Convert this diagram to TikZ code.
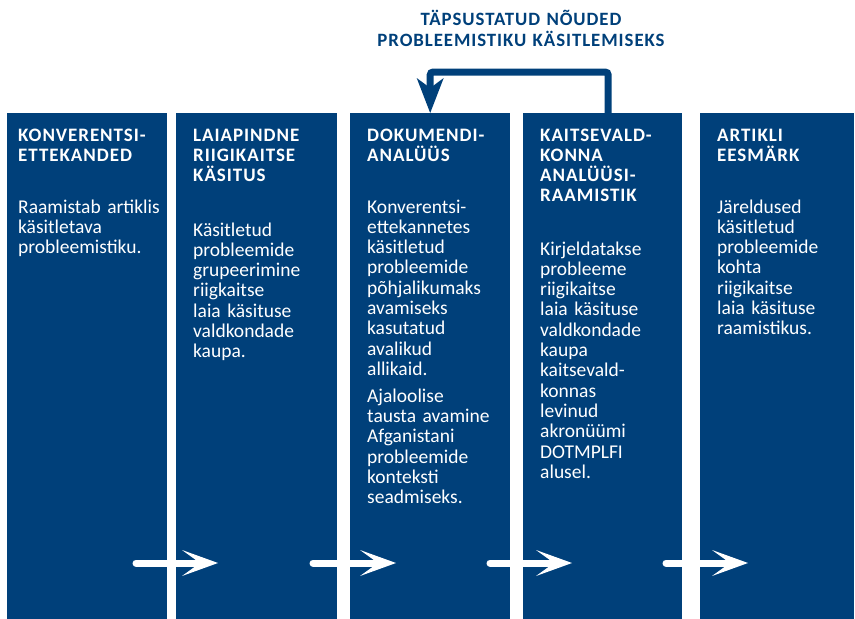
\documentclass[tikz,border=0pt]{standalone}
\usepackage{fontspec}
\setmainfont{Carlito}
\newfontfamily\headfont{Carlito}[LetterSpace=5]
\usepackage{tikz}
\usetikzlibrary{arrows.meta}
\definecolor{navyblue}{RGB}{0,64,122}

\begin{document}
\begin{tikzpicture}[x=1pt,y=-1pt]
        \tikzstyle{colnode}=[
            rectangle,
            fill=navyblue,
            anchor=north west,
            minimum height=506pt,
            inner sep=0pt
        ]
        \tikzstyle{headnode}=[
            anchor=base west,
            inner sep=0pt,
            text width=150pt,
            align=left,
            text=white,
            font=\headfont\bfseries\fontsize{19}{20}\selectfont
        ]
        \tikzstyle{bodynode}=[
            anchor=base west,
            inner sep=0pt,
            text width=150pt,
            align=left,
            text=white,
            font=\fontsize{19.5}{20.3}\selectfont
        ]
        \tikzstyle{flowarrow}=[
            draw=white,
            line width=7pt,
            line cap=round,
            -{Stealth[length=36pt,width=26pt,inset=18pt,line width=0pt]}
        ]

        \useasboundingbox (0,0) rectangle (855,619);

        % columns
        \node[colnode, minimum width=160pt] (c1) at (7,113) {};
        \node[colnode, minimum width=161pt] (c2) at (176,113) {};
        \node[colnode, minimum width=160pt] (c3) at (350,113) {};
        \node[colnode, minimum width=159pt] (c4) at (523,113) {};
        \node[colnode, minimum width=154pt] (c5) at (700,113) {};

        % title
        \node[anchor=base, inner sep=0pt, text width=330pt, align=center, text=navyblue,
              font=\headfont\bfseries\fontsize{18.8}{21}\selectfont] (title) at (521,25)
              {TÄPSUSTATUD NÕUDED\\PROBLEEMISTIKU KÄSITLEMISEKS};

        % headings
        \node[headnode] (h1) at (18,141) {KONVERENTSI-\\ETTEKANDED};
        \node[headnode] (h2) at (193,141) {LAIAPINDNE\\RIIGIKAITSE\\KÄSITUS};
        \node[headnode] (h3) at (367,141) {DOKUMENDI-\\ANALÜÜS};
        \node[headnode] (h4) at (540,141) {KAITSEVALD-\\KONNA\\ANALÜÜSI-\\RAAMISTIK};
        \node[headnode] (h5) at (717,141) {ARTIKLI\\EESMÄRK};

        % texts
        \node[bodynode] (b1) at (18,213) {Raamistab artiklis\\käsitletava\\probleemistiku.};
        \node[bodynode] (b2) at (193,236) {Käsitletud\\probleemide\\grupeerimine\\riigkaitse\\laia käsituse\\valdkondade\\kaupa.};
        \node[bodynode] (b3) at (367,213) {Konverentsi-\\ettekannetes\\käsitletud\\probleemide\\põhjalikumaks\\avamiseks\\kasutatud\\avalikud\\allikaid.\\[6.5pt]Ajaloolise\\tausta avamine\\Afganistani\\probleemide\\konteksti\\seadmiseks.};
        \node[bodynode] (b4) at (540,255) {Kirjeldatakse\\probleeme\\riigikaitse\\laia käsituse\\valdkondade\\kaupa\\kaitsevald-\\konnas\\levinud\\akronüümi\\DOTMPLFI\\alusel.};
        \node[bodynode] (b5) at (717,213) {Järeldused\\käsitletud\\probleemide\\kohta\\riigikaitse\\laia käsituse\\raamistikus.};

        % flow arrows
        \coordinate (a1s) at (136,563);
        \coordinate (a1e) at (218,563);
        \coordinate (a2s) at (313,563);
        \coordinate (a2e) at (396,563);
        \coordinate (a3s) at (490,563);
        \coordinate (a3e) at (572,563);
        \coordinate (a4s) at (666,563);
        \coordinate (a4e) at (748,563);
        \draw[flowarrow] (a1s) -- (a1e);
        \draw[flowarrow] (a2s) -- (a2e);
        \draw[flowarrow] (a3s) -- (a3e);
        \draw[flowarrow] (a4s) -- (a4e);

        % feedback
        \draw[navyblue, line width=7pt, rounded corners=3pt,
              -{Stealth[length=35pt,width=27pt,inset=10pt,line width=0pt]}]
              ([xshift=5.5pt]c4.north) -- ++(0,-41) -| (c3.north);

    \end{tikzpicture}
\end{document}
